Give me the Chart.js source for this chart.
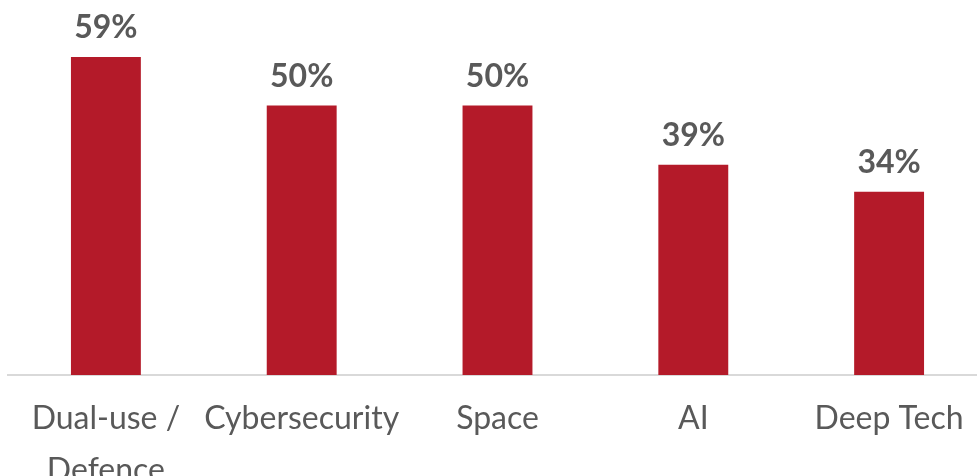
<!DOCTYPE html>
<html lang="en">
<head>
    <meta charset="UTF-8" />
    <title>Sectors</title>
    <script src="https://cdn.jsdelivr.net/npm/chart.js"></script>
    <style>
        html, body { margin: 0; padding: 0; background: #fff; overflow: hidden; }
        .caixa { width: 987px; height: 476px; position: relative; }
    </style>
</head>
<body>
    <div class="caixa">
        <canvas id="grafico_barra"></canvas>
    </div>
<script>
    const categorias = [['Dual-use /', 'Defence'], 'Cybersecurity', 'Space', 'AI', 'Deep Tech'];
    const valores = [59, 50, 50, 39, 34];

    // desenha o "59%" em cima de cada barra
    const rotulosBarra = {
        id: 'rotulosBarra',
        afterDatasetsDraw(chart) {
            const ctx = chart.ctx;
            const meta = chart.getDatasetMeta(0);
            ctx.save();
            ctx.font = 'bold 32px Lato';
            ctx.fillStyle = '#595959';
            ctx.textAlign = 'center';
            ctx.textBaseline = 'alphabetic';
            meta.data.forEach((barra, i) => {
                ctx.fillText(valores[i] + '%', barra.x, barra.y - 19);
            });
            ctx.restore();
        }
    };

    const config = {
        type: 'bar',
        data: {
            labels: categorias,
            datasets: [{
                data: valores,
                backgroundColor: '#b41a29',
                categoryPercentage: 1,
                barPercentage: 0.357
            }]
        },
        options: {
            responsive: false,
            animation: false,
            layout: { padding: { left: 8, right: 0, top: 0, bottom: 0 } },
            plugins: { legend: { display: false }, tooltip: { enabled: false } },
            scales: {
                y: {
                    display: false,
                    min: 0,
                    max: 69.6
                },
                x: {
                    grid: { display: false, drawTicks: false },
                    border: { color: '#d9d9d9', width: 2 },
                    ticks: {
                        color: '#595959',
                        font: { family: 'Lato', size: 32, lineHeight: 1.62 },
                        padding: 18,
                        maxRotation: 0,
                        autoSkip: false
                    },
                    afterFit(scale) { scale.height = 101; }
                }
            }
        },
        plugins: [rotulosBarra]
    };

    const canvas = document.getElementById('grafico_barra');
    canvas.width = 987;
    canvas.height = 476;
    new Chart(canvas, config);
</script>
</body>
</html>
